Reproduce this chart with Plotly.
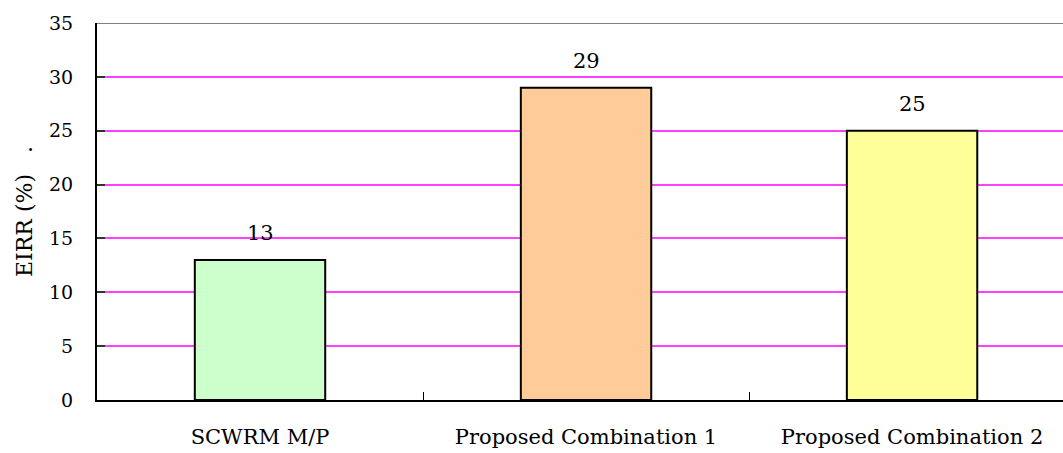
import plotly.graph_objects as go

categories = ["SCWRM M/P", "Proposed Combination 1", "Proposed Combination 2"]
eirr_values = [13, 29, 25]
bar_colors = ["#CCFFCC", "#FFCC99", "#FFFF99"]
y_ticks = [0, 5, 10, 15, 20, 25, 30, 35]

FONT = "DejaVu Serif"

fig = go.Figure()
fig.add_trace(go.Bar(
    x=categories,
    y=eirr_values,
    width=0.4,
    marker=dict(color=bar_colors, line=dict(color="black", width=2)),
    hoverinfo="skip",
))

# value labels above each bar
for cat, val in zip(categories, eirr_values):
    fig.add_annotation(
        x=cat, y=val, text=str(val), showarrow=False,
        yanchor="bottom", yshift=13,
        font=dict(family=FONT, size=21, color="black"),
    )

# grey top frame line at the axis maximum
fig.add_shape(type="line", xref="paper", yref="y", x0=0, x1=1, y0=35, y1=35,
              line=dict(color="#808080", width=2))

fig.update_layout(
    width=1063, height=453,
    margin=dict(l=97, r=0, t=23, b=53),
    paper_bgcolor="white", plot_bgcolor="white",
    showlegend=False,
    font=dict(family=FONT, size=20, color="black"),
    xaxis=dict(
        range=[-0.5, 2.463],
        showline=True, linecolor="black", linewidth=2,
        ticks="inside", ticklen=8, tickcolor="black", tickwidth=1,
        tickson="boundaries",
        showgrid=False, zeroline=False,
        ticklabelstandoff=17,
        tickfont=dict(family=FONT, size=21, color="black"),
    ),
    yaxis=dict(
        range=[0, 35],
        tickvals=y_ticks,
        showline=True, linecolor="black", linewidth=2,
        ticks="inside", ticklen=8, tickcolor="#333333", tickwidth=2,
        showgrid=True, gridcolor="#FF40FF", gridwidth=1.5,
        zeroline=False,
        ticklabelstandoff=18,
        tickfont=dict(family=FONT, size=19, color="black"),
        title=dict(text="EIRR (%)\u00a0\u00a0\u00a0.", standoff=10,
                   font=dict(family=FONT, size=22, color="black")),
    ),
)

fig.write_html("out.html")
